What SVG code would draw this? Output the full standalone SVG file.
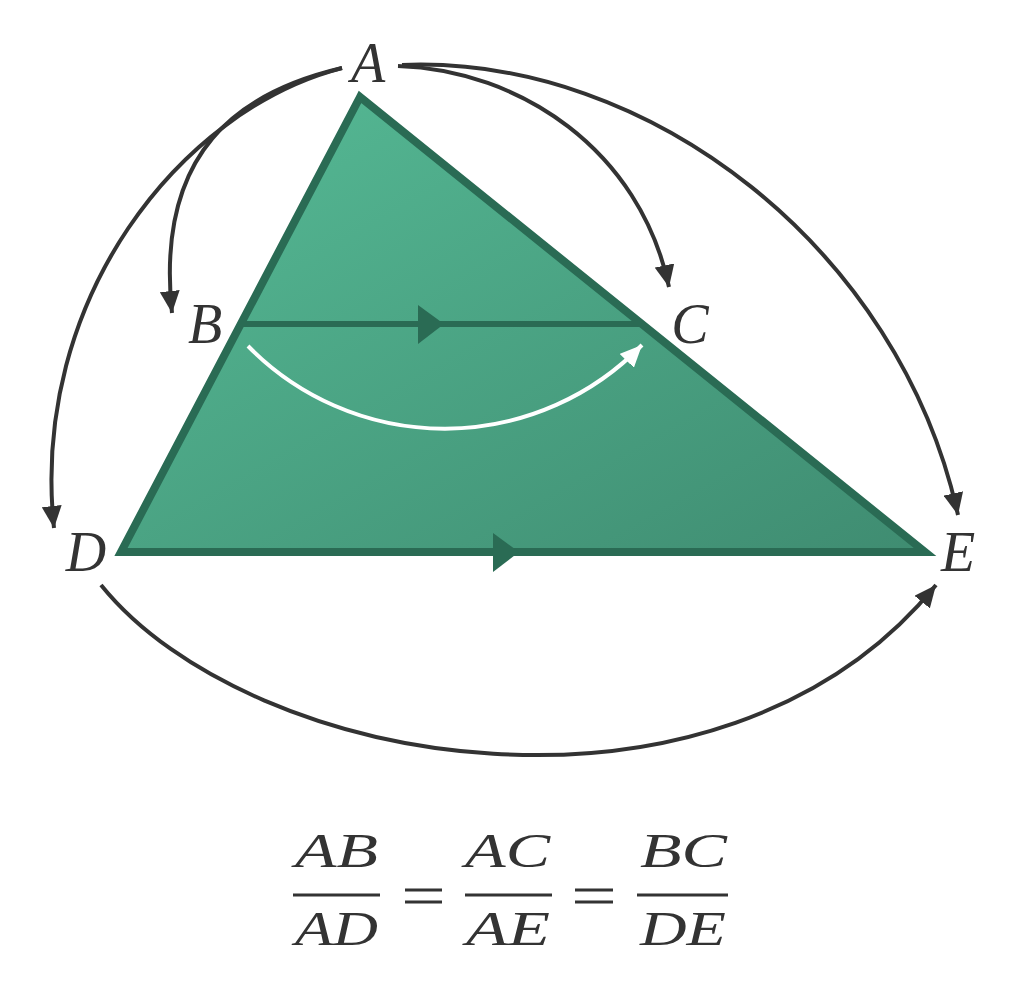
<svg xmlns="http://www.w3.org/2000/svg" width="1023" height="991" viewBox="0 0 1023 991">
<defs>
<linearGradient id="g" x1="0" y1="0" x2="1" y2="1">
<stop offset="0" stop-color="#56bb96"/>
<stop offset="1" stop-color="#3f8c71"/>
</linearGradient>
<marker id="ah" viewBox="0 0 22 20" refX="22" refY="10" markerWidth="22" markerHeight="20" markerUnits="userSpaceOnUse" orient="auto">
<path d="M0,0 L22,10 L0,20 Z" fill="#333"/>
</marker>
<marker id="aw" viewBox="0 0 22 20" refX="22" refY="10" markerWidth="22" markerHeight="20" markerUnits="userSpaceOnUse" orient="auto">
<path d="M0,0 L22,10 L0,20 Z" fill="#fff"/>
</marker>
</defs>
<style>
.lbl{font-family:"Liberation Serif",serif;font-style:italic;font-size:56px;fill:#333;text-anchor:middle}
.eq{font-family:"Liberation Serif",serif;font-style:italic;font-size:48px;fill:#333;text-anchor:start}
.con{fill:none;stroke:#333;stroke-width:4}
.bar{stroke:#333;stroke-width:3}
</style>
<g id="triangle">
<path d="M360,97 L121,552 L925,552 Z" fill="url(#g)" stroke="#2a6b54" stroke-width="8" stroke-linejoin="miter"/>
<line x1="240" y1="324" x2="642" y2="324" stroke="#2a6b54" stroke-width="6"/>
<path d="M418,305 L444,324 L418,344 Z" fill="#2a6b54"/>
<path d="M493,533 L519,552 L493,572 Z" fill="#2a6b54"/>
</g>
<g id="connectors">
<path class="con" d="M342,68 C240,92 155,150 172,313" marker-end="url(#ah)"/>
<path class="con" d="M342,68 C180,110 30,300 54,528" marker-end="url(#ah)"/>
<path class="con" d="M398,66 C520,70 640,150 669,287" marker-end="url(#ah)"/>
<path class="con" d="M402,65 C650,55 900,250 958,515" marker-end="url(#ah)"/>
<path class="con" d="M101,585 C250,770 720,850 936,585" marker-end="url(#ah)"/>
<path d="M248,346 A275,275 0 0 0 642,345" fill="none" stroke="#fff" stroke-width="4" marker-end="url(#aw)"/>
</g>
<g id="A"><text class="lbl" x="368" y="82">A</text></g>
<g id="B"><text class="lbl" x="205" y="343">B</text></g>
<g id="C"><text class="lbl" x="690" y="343">C</text></g>
<g id="D"><text class="lbl" x="86" y="571">D</text></g>
<g id="E"><text class="lbl" x="958" y="571">E</text></g>
<g id="equation">
<text class="eq" x="295" y="867" textLength="83" lengthAdjust="spacingAndGlyphs">AB</text>
<line class="bar" x1="293" y1="895" x2="380" y2="895"/>
<text class="eq" x="295" y="945" textLength="83" lengthAdjust="spacingAndGlyphs">AD</text>
<line class="bar" x1="405" y1="890" x2="442" y2="890"/>
<line class="bar" x1="405" y1="902" x2="442" y2="902"/>
<text class="eq" x="465" y="867" textLength="85" lengthAdjust="spacingAndGlyphs">AC</text>
<line class="bar" x1="465" y1="895" x2="552" y2="895"/>
<text class="eq" x="466" y="945" textLength="84" lengthAdjust="spacingAndGlyphs">AE</text>
<line class="bar" x1="575" y1="890" x2="613" y2="890"/>
<line class="bar" x1="575" y1="902" x2="613" y2="902"/>
<text class="eq" x="640" y="867" textLength="87" lengthAdjust="spacingAndGlyphs">BC</text>
<line class="bar" x1="637" y1="895" x2="728" y2="895"/>
<text class="eq" x="640" y="945" textLength="86" lengthAdjust="spacingAndGlyphs">DE</text>
</g>
</svg>
